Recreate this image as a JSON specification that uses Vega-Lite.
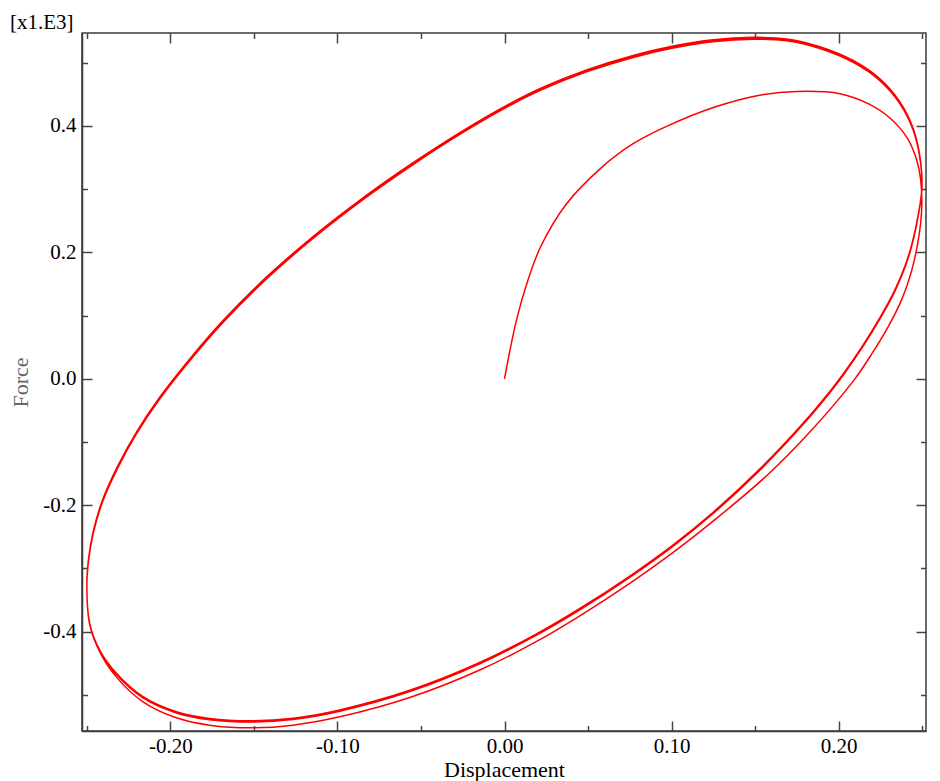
{
  "$schema": "https://vega.github.io/schema/vega-lite/v6.json",
  "width": 844,
  "height": 698,
  "autosize": {"type": "none"},
  "padding": {"left": 82, "top": 33, "right": 14, "bottom": 50},
  "background": "white",
  "config": {
    "view": {"stroke": "#3a3a3a", "strokeWidth": 1.5},
    "font": "Liberation Serif"
  },
  "title": {
    "text": "[x1.E3]",
    "anchor": "start",
    "frame": "group",
    "dx": -72,
    "offset": -18,
    "font": "Liberation Serif",
    "fontSize": 21,
    "fontWeight": "normal",
    "color": "#000000",
    "baseline": "alphabetic"
  },
  "data": {
    "values": [
      {"d": 0.0, "f": 0.0},
      {"d": 0.0072, "f": 0.0932},
      {"d": 0.0141, "f": 0.1565},
      {"d": 0.0217, "f": 0.2092},
      {"d": 0.0367, "f": 0.2752},
      {"d": 0.0577, "f": 0.3332},
      {"d": 0.077, "f": 0.3717},
      {"d": 0.097, "f": 0.3991},
      {"d": 0.1259, "f": 0.4297},
      {"d": 0.1519, "f": 0.4481},
      {"d": 0.1749, "f": 0.4544},
      {"d": 0.2008, "f": 0.4508},
      {"d": 0.2177, "f": 0.435},
      {"d": 0.2307, "f": 0.4123},
      {"d": 0.2411, "f": 0.3807},
      {"d": 0.2467, "f": 0.3464},
      {"d": 0.2491, "f": 0.3147},
      {"d": 0.2497, "f": 0.2672},
      {"d": 0.2477, "f": 0.2198},
      {"d": 0.2433, "f": 0.1671},
      {"d": 0.2377, "f": 0.1248},
      {"d": 0.2297, "f": 0.0826},
      {"d": 0.2201, "f": 0.0405},
      {"d": 0.2093, "f": -0.0017},
      {"d": 0.184, "f": -0.0806},
      {"d": 0.1569, "f": -0.1533},
      {"d": 0.1249, "f": -0.2251},
      {"d": 0.101, "f": -0.2745},
      {"d": 0.075, "f": -0.3234},
      {"d": 0.0451, "f": -0.3748},
      {"d": 0.0192, "f": -0.4154},
      {"d": -0.0148, "f": -0.4606},
      {"d": -0.0567, "f": -0.5041},
      {"d": -0.0986, "f": -0.5346},
      {"d": -0.1266, "f": -0.5478},
      {"d": -0.1505, "f": -0.5519},
      {"d": -0.1765, "f": -0.5478},
      {"d": -0.1964, "f": -0.5361},
      {"d": -0.2164, "f": -0.5108},
      {"d": -0.2323, "f": -0.4718},
      {"d": -0.2423, "f": -0.432},
      {"d": -0.2483, "f": -0.3867},
      {"d": -0.25, "f": -0.3315},
      {"d": -0.249, "f": -0.2881},
      {"d": -0.2463, "f": -0.2458},
      {"d": -0.2404, "f": -0.1931},
      {"d": -0.2314, "f": -0.1404},
      {"d": -0.2204, "f": -0.0876},
      {"d": -0.2064, "f": -0.0322},
      {"d": -0.1884, "f": 0.0284},
      {"d": -0.1685, "f": 0.089},
      {"d": -0.1425, "f": 0.1577},
      {"d": -0.1146, "f": 0.2219},
      {"d": -0.0847, "f": 0.2832},
      {"d": -0.0547, "f": 0.3387},
      {"d": -0.0248, "f": 0.3895},
      {"d": 0.0032, "f": 0.4321},
      {"d": 0.0231, "f": 0.458},
      {"d": 0.0491, "f": 0.4853},
      {"d": 0.077, "f": 0.5082},
      {"d": 0.101, "f": 0.5231},
      {"d": 0.1249, "f": 0.5331},
      {"d": 0.1489, "f": 0.5369},
      {"d": 0.1689, "f": 0.5345},
      {"d": 0.1888, "f": 0.5222},
      {"d": 0.2087, "f": 0.5003},
      {"d": 0.2247, "f": 0.4715},
      {"d": 0.2367, "f": 0.4349},
      {"d": 0.2447, "f": 0.3925},
      {"d": 0.2491, "f": 0.3406},
      {"d": 0.2498, "f": 0.3},
      {"d": 0.2467, "f": 0.2462},
      {"d": 0.2417, "f": 0.1934},
      {"d": 0.2337, "f": 0.1407},
      {"d": 0.2247, "f": 0.0966},
      {"d": 0.2147, "f": 0.0536},
      {"d": 0.2038, "f": 0.0116},
      {"d": 0.1958, "f": -0.0164},
      {"d": 0.1788, "f": -0.07},
      {"d": 0.1529, "f": -0.1425},
      {"d": 0.1249, "f": -0.2111},
      {"d": 0.101, "f": -0.2625},
      {"d": 0.075, "f": -0.3119},
      {"d": 0.0451, "f": -0.3633},
      {"d": 0.0192, "f": -0.4034},
      {"d": -0.0148, "f": -0.4486},
      {"d": -0.0567, "f": -0.4926},
      {"d": -0.0986, "f": -0.5236},
      {"d": -0.1266, "f": -0.5368},
      {"d": -0.1505, "f": -0.5409},
      {"d": -0.1765, "f": -0.5373},
      {"d": -0.1964, "f": -0.5266},
      {"d": -0.2164, "f": -0.5028},
      {"d": -0.2323, "f": -0.4658},
      {"d": -0.2423, "f": -0.429},
      {"d": -0.2483, "f": -0.3867},
      {"d": -0.25, "f": -0.33},
      {"d": -0.249, "f": -0.2866},
      {"d": -0.2463, "f": -0.2443},
      {"d": -0.2404, "f": -0.1916},
      {"d": -0.2314, "f": -0.1389},
      {"d": -0.2204, "f": -0.0861},
      {"d": -0.2064, "f": -0.0307},
      {"d": -0.1884, "f": 0.0299},
      {"d": -0.1685, "f": 0.0905},
      {"d": -0.1425, "f": 0.1592},
      {"d": -0.1146, "f": 0.2234},
      {"d": -0.0847, "f": 0.2847},
      {"d": -0.0547, "f": 0.3402},
      {"d": -0.0248, "f": 0.391},
      {"d": 0.0032, "f": 0.4336},
      {"d": 0.0231, "f": 0.4595},
      {"d": 0.0491, "f": 0.4868},
      {"d": 0.077, "f": 0.5097},
      {"d": 0.101, "f": 0.5246},
      {"d": 0.1249, "f": 0.5346},
      {"d": 0.1489, "f": 0.5384},
      {"d": 0.1689, "f": 0.536},
      {"d": 0.1888, "f": 0.5237},
      {"d": 0.2087, "f": 0.5018},
      {"d": 0.2247, "f": 0.473},
      {"d": 0.2367, "f": 0.4364},
      {"d": 0.2447, "f": 0.394},
      {"d": 0.2491, "f": 0.3421},
      {"d": 0.2498, "f": 0.298},
      {"d": 0.2467, "f": 0.2442},
      {"d": 0.2417, "f": 0.1914},
      {"d": 0.2337, "f": 0.1387},
      {"d": 0.2247, "f": 0.0946},
      {"d": 0.2147, "f": 0.0516},
      {"d": 0.2038, "f": 0.0096},
      {"d": 0.1958, "f": -0.0184},
      {"d": 0.1788, "f": -0.072},
      {"d": 0.1529, "f": -0.1445},
      {"d": 0.1249, "f": -0.2131},
      {"d": 0.101, "f": -0.2645},
      {"d": 0.075, "f": -0.3139},
      {"d": 0.0451, "f": -0.3653},
      {"d": 0.0192, "f": -0.4054},
      {"d": -0.0148, "f": -0.4506},
      {"d": -0.0567, "f": -0.4946},
      {"d": -0.0986, "f": -0.5256},
      {"d": -0.1266, "f": -0.5388},
      {"d": -0.1505, "f": -0.5429},
      {"d": -0.1765, "f": -0.5393},
      {"d": -0.1964, "f": -0.5286},
      {"d": -0.2164, "f": -0.5048},
      {"d": -0.2323, "f": -0.4678},
      {"d": -0.2423, "f": -0.431},
      {"d": -0.2483, "f": -0.3887},
      {"d": -0.25, "f": -0.3285},
      {"d": -0.249, "f": -0.2851},
      {"d": -0.2463, "f": -0.2428},
      {"d": -0.2404, "f": -0.1901},
      {"d": -0.2314, "f": -0.1374},
      {"d": -0.2204, "f": -0.0846},
      {"d": -0.2064, "f": -0.0292},
      {"d": -0.1884, "f": 0.0314},
      {"d": -0.1685, "f": 0.092},
      {"d": -0.1425, "f": 0.1607},
      {"d": -0.1146, "f": 0.2249},
      {"d": -0.0847, "f": 0.2862},
      {"d": -0.0547, "f": 0.3417},
      {"d": -0.0248, "f": 0.3925},
      {"d": 0.0032, "f": 0.4351},
      {"d": 0.0231, "f": 0.461},
      {"d": 0.0491, "f": 0.4883},
      {"d": 0.077, "f": 0.5112},
      {"d": 0.101, "f": 0.5261},
      {"d": 0.1249, "f": 0.5361},
      {"d": 0.1489, "f": 0.5399},
      {"d": 0.1689, "f": 0.5375},
      {"d": 0.1888, "f": 0.5252},
      {"d": 0.2087, "f": 0.5033},
      {"d": 0.2247, "f": 0.4745},
      {"d": 0.2367, "f": 0.4379},
      {"d": 0.2447, "f": 0.3955},
      {"d": 0.2491, "f": 0.3436},
      {"d": 0.2497, "f": 0.303}
    ]
  },
  "layer": [
    {
      "mark": {"type": "line", "color": "#ff0000", "strokeWidth": 1.5, "interpolate": "catmull-rom"},
      "encoding": {
        "x": {
          "field": "d", "type": "quantitative",
          "scale": {"domain": [-0.2529, 0.2523], "nice": false, "zero": false},
          "axis": {
            "orient": "bottom",
            "values": [-0.2, -0.1, 0, 0.1, 0.2],
            "labelExpr": "datum.value < 0 ? '-' + format(-datum.value, '.2f') : format(datum.value, '.2f')",
            "title": "Displacement",
            "titleFont": "Liberation Serif", "titleFontSize": 22, "titleFontWeight": "normal",
            "titleColor": "#000000", "titleY": 45, "titleBaseline": "alphabetic",
            "labelFont": "Liberation Serif", "labelFontSize": 21, "labelColor": "#000000",
            "labelPadding": 14, "labelFlush": false, "labelOverlap": false,
            "tickSize": -10, "tickColor": "#444444", "tickWidth": 1.5,
            "domainColor": "#3a3a3a", "domainWidth": 1.5, "grid": false
          }
        },
        "y": {
          "field": "f", "type": "quantitative",
          "scale": {"domain": [-0.557, 0.5468], "nice": false, "zero": false},
          "axis": {
            "orient": "left",
            "values": [-0.4, -0.2, 0, 0.2, 0.4],
            "labelExpr": "datum.value < 0 ? '-' + format(-datum.value, '.1f') : format(datum.value, '.1f')",
            "title": "Force",
            "titleFont": "Liberation Serif", "titleFontSize": 22, "titleFontWeight": "normal",
            "titleColor": "#666666", "titleX": -62, "titleY": 349, "titleAngle": -90,
            "titleAlign": "center", "titleBaseline": "middle",
            "labelFont": "Liberation Serif", "labelFontSize": 21, "labelColor": "#000000",
            "labelPadding": 16, "labelFlush": false, "labelOverlap": false,
            "tickSize": -10, "tickColor": "#444444", "tickWidth": 1.5,
            "domainColor": "#3a3a3a", "domainWidth": 1.5, "grid": false
          }
        },
        "order": {"value": null}
      }
    },
    {
      "mark": {"type": "line", "strokeOpacity": 0},
      "encoding": {
        "x": {
          "field": "d", "type": "quantitative",
          "axis": {
            "orient": "bottom", "values": [-0.25, -0.15, -0.05, 0.05, 0.15, 0.25],
            "labels": false, "title": null, "domain": false, "grid": false,
            "tickSize": -5.5, "tickColor": "#444444", "tickWidth": 1.5
          }
        },
        "y": {
          "field": "f", "type": "quantitative",
          "axis": {
            "orient": "left", "values": [-0.5, -0.3, -0.1, 0.1, 0.3, 0.5],
            "labels": false, "title": null, "domain": false, "grid": false,
            "tickSize": -5.5, "tickColor": "#444444", "tickWidth": 1.5
          }
        },
        "order": {"value": null}
      }
    },
    {
      "mark": {"type": "line", "strokeOpacity": 0},
      "encoding": {
        "x": {
          "field": "d", "type": "quantitative",
          "axis": {
            "orient": "top", "values": [-0.2, -0.1, 0, 0.1, 0.2],
            "labels": false, "title": null, "domain": false, "grid": false,
            "tickSize": -10, "tickColor": "#444444", "tickWidth": 1.5
          }
        },
        "y": {
          "field": "f", "type": "quantitative",
          "axis": {
            "orient": "right", "values": [-0.4, -0.2, 0, 0.2, 0.4],
            "labels": false, "title": null, "domain": false, "grid": false,
            "tickSize": -10, "tickColor": "#444444", "tickWidth": 1.5
          }
        },
        "order": {"value": null}
      }
    },
    {
      "mark": {"type": "line", "strokeOpacity": 0},
      "encoding": {
        "x": {
          "field": "d", "type": "quantitative",
          "axis": {
            "orient": "top", "values": [-0.25, -0.15, -0.05, 0.05, 0.15, 0.25],
            "labels": false, "title": null, "domain": false, "grid": false,
            "tickSize": -5.5, "tickColor": "#444444", "tickWidth": 1.5
          }
        },
        "y": {
          "field": "f", "type": "quantitative",
          "axis": {
            "orient": "right", "values": [-0.5, -0.3, -0.1, 0.1, 0.3, 0.5],
            "labels": false, "title": null, "domain": false, "grid": false,
            "tickSize": -5.5, "tickColor": "#444444", "tickWidth": 1.5
          }
        },
        "order": {"value": null}
      }
    }
  ],
  "resolve": {"axis": {"x": "independent", "y": "independent"}}
}
